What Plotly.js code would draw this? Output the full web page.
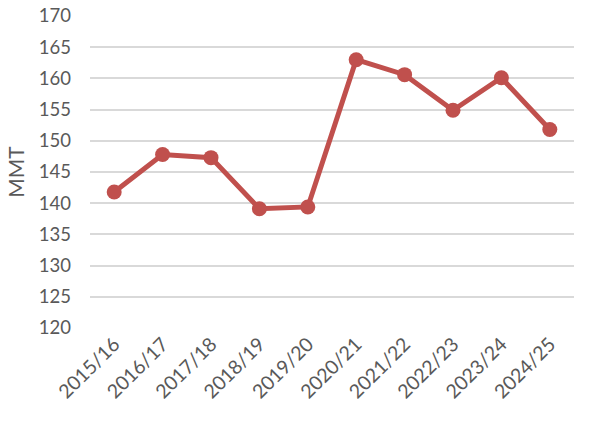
<!DOCTYPE html>
<html><head><meta charset="utf-8">
<script src="https://cdn.plot.ly/plotly-3.0.1.min.js"></script>
<style>html,body{margin:0;padding:0;background:#fff}</style>
</head><body>
<div id="chart" style="width:596px;height:423px"></div>
<script>
const categories = ["2015/16","2016/17","2017/18","2018/19","2019/20","2020/21","2021/22","2022/23","2023/24","2024/25"];
const values = [141.8, 147.8, 147.3, 139.1, 139.4, 163.0, 160.6, 154.9, 160.1, 151.8];
const yTicks = [120,125,130,135,140,145,150,155,160,165,170];

const trace = {
  x: categories, y: values, type: "scatter", mode: "lines+markers",
  line: {color: "#C0504D", width: 5},
  marker: {color: "#C0504D", size: 15},
  hoverinfo: "skip"
};
const layout = {
  width: 596, height: 423,
  margin: {l: 90, r: 22, t: 16, b: 95},
  paper_bgcolor: "#fff", plot_bgcolor: "#fff",
  font: {family: "Lato, 'Open Sans', sans-serif", color: "#595959", size: 18},
  showlegend: false,
  xaxis: {type: "category", range: [-0.5, 9.5], tickangle: -45, showgrid: false, zeroline: false,
          showline: false, ticks: "", tickfont: {size: 19.5, color: "#595959"}},
  yaxis: {range: [120, 170], tickvals: yTicks, showgrid: true, gridcolor: "#D9D9D9", gridwidth: 2,
          zeroline: false, showline: false, ticks: "", ticklen: 0, ticklabelstandoff: 18,
          tickfont: {size: 18.5, color: "#595959"},
          title: {text: "MMT", font: {size: 21, color: "#595959"}, standoff: 8}}
};
Plotly.newPlot("chart", [trace], layout, {staticPlot: true, displayModeBar: false});
</script>
</body></html>
